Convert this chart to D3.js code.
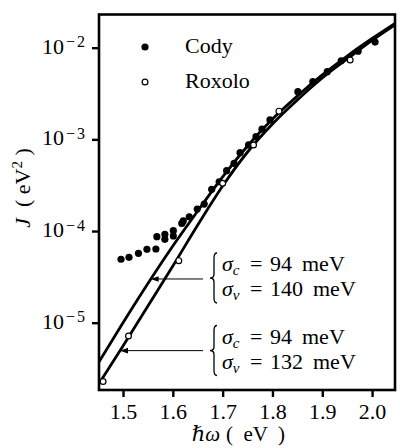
<!DOCTYPE html>
<html><head><meta charset="utf-8">
<script src="https://cdn.jsdelivr.net/npm/d3@7"></script>
<style>
html,body{margin:0;padding:0;background:#fff;}
svg{display:block;}
svg text{font-family:"Liberation Serif","DejaVu Serif",serif;fill:#000;}
.pre{white-space:pre;}
</style>
</head><body>
<svg id="chart" width="400" height="448"></svg>
<script>
// ---- data ----
const codyE = [1.496,1.512,1.531,1.548,1.566,1.568,1.584,1.584,1.601,1.601,1.618,1.621,1.633,1.649,1.663,
               1.678,1.693,1.708,1.723,1.735,1.752,1.767,1.779,1.795,1.851,1.881,1.910,1.938,1.972,2.006];
const codyJ = [4.92e-5,5.17e-5,5.71e-5,6.32e-5,6.37e-5,8.67e-5,9.2e-5,8.13e-5,1.01e-4,8.83e-5,1.21e-4,1.29e-4,1.43e-4,1.74e-4,1.97e-4,
               2.85e-4,3.45e-4,4.55e-4,5.48e-4,7.16e-4,8.69e-4,1.07e-3,1.29e-3,1.63e-3,3.31e-3,4.26e-3,5.47e-3,7.19e-3,9.16e-3,1.15e-2];
const roxoloE = [1.460,1.511,1.612,1.700,1.762,1.813,1.956];
const roxoloJ = [2.28e-6,7.16e-6,4.75e-5,3.32e-4,8.69e-4,2.03e-3,7.34e-3];
const fitE = [1.45,1.50,1.55,1.60,1.65,1.70,1.75,1.80,1.85,1.90,1.95,2.00,2.05];
const fit140J = [3.6e-6,1.0e-5,2.68e-5,6.87e-5,1.656e-4,3.89e-4,8.47e-4,1.667e-3,2.97e-3,5.04e-3,8.11e-3,1.259e-2,1.905e-2];
const fit132J = [2.09e-6,5.57e-6,1.52e-5,4.15e-5,1.164e-4,3.10e-4,7.28e-4,1.472e-3,2.69e-3,4.67e-3,7.53e-3,1.2e-2,1.837e-2];
const seriesNames = ["Cody","Roxolo"];
const xTicks = [1.5,1.6,1.7,1.8,1.9,2.0];
const xTickLabels = ["1.5","1.6","1.7","1.8","1.9","2.0"];
const yTicks = [1e-5,1e-4,1e-3,1e-2];
const yTickExp = ["−5","−4","−3","−2"];
const annSigmaC = ["94","94"];
const annSigmaV = ["140","132"];
const arrowE = [1.5554,1.494];
const arrowJ = [3.0e-5,4.96e-6];

// ---- layout ----
const L=99, R=395, T=14.5, B=390;
const svg = d3.select("#chart");
const x = d3.scaleLinear().domain([1.4518,2.046]).range([L,R]);
const y = d3.scaleLog().domain([Math.pow(10,-5.734),Math.pow(10,-1.638)]).range([B,T]);

svg.append("defs").append("clipPath").attr("id","clip")
  .append("rect").attr("x",L).attr("y",T).attr("width",R-L).attr("height",B-T);

// fitted curves
const line = d3.line().x(d=>x(d[0])).y(d=>y(d[1])).curve(d3.curveMonotoneX);
const g = svg.append("g").attr("clip-path","url(#clip)");
[fit140J, fit132J].forEach(arr=>{
  g.append("path").datum(fitE.map((e,i)=>[e,arr[i]]))
    .attr("d",line).attr("fill","none").attr("stroke","#000").attr("stroke-width",2.8);
});

// data points
g.selectAll("circle.cody").data(codyE.map((e,i)=>[e,codyJ[i]])).enter()
  .append("circle").attr("class","cody").attr("cx",d=>x(d[0])).attr("cy",d=>y(d[1])).attr("r",3.6).attr("fill","#000");
g.selectAll("circle.rox").data(roxoloE.map((e,i)=>[e,roxoloJ[i]])).enter()
  .append("circle").attr("class","rox").attr("cx",d=>x(d[0])).attr("cy",d=>y(d[1])).attr("r",2.9)
  .attr("fill","#fff").attr("stroke","#000").attr("stroke-width",1.2);

// frame
svg.append("rect").attr("x",L).attr("y",T).attr("width",R-L).attr("height",B-T)
  .attr("fill","none").attr("stroke","#000").attr("stroke-width",2.6);

// x axis ticks + labels
const xa = svg.append("g").attr("transform",`translate(0,${B})`)
  .call(d3.axisBottom(x).tickValues(xTicks).tickSize(7).tickFormat((d,i)=>xTickLabels[i]).tickPadding(7));
xa.select(".domain").remove();
xa.selectAll(".tick line").attr("stroke","#000").attr("stroke-width",2.4);
xa.selectAll(".tick text").attr("font-size",22).attr("fill","#000").attr("dy","0.68em");

// y axis ticks + labels
const ya = svg.append("g").attr("transform",`translate(${L},0)`)
  .call(d3.axisLeft(y).tickValues(yTicks).tickSize(7).tickFormat(""));
ya.select(".domain").remove();
ya.selectAll(".tick line").attr("stroke","#000").attr("stroke-width",2.4);
yTicks.forEach((v,i)=>{
  svg.append("text").attr("x",64).attr("y",y(v)+6).attr("text-anchor","end").attr("font-size",22).text("10");
  svg.append("text").attr("x",66).attr("y",y(v)-0.5).attr("font-size",16).attr("letter-spacing",2).text(yTickExp[i]);
});

// axis titles
svg.append("text").attr("x",220).attr("y",441).attr("text-anchor","end").attr("font-size",21)
  .attr("font-style","italic").text("ℏω");
svg.append("text").attr("class","pre").attr("x",226).attr("y",441).attr("font-size",21).text("(  eV  )");
const yt = svg.append("text").attr("class","pre").attr("transform","translate(30,188) rotate(-90)")
  .attr("text-anchor","middle").attr("font-size",22);
yt.append("tspan").attr("font-style","italic").text("J");
yt.append("tspan").text("  ( eV");
yt.append("tspan").attr("dy",-8).attr("font-size",15).text("2");
yt.append("tspan").attr("dy",8).text(" )");

// legend
svg.append("circle").attr("cx",145).attr("cy",47).attr("r",3.6).attr("fill","#000");
svg.append("circle").attr("cx",145).attr("cy",82).attr("r",2.9).attr("fill","#fff").attr("stroke","#000").attr("stroke-width",1.2);
svg.append("text").attr("x",185).attr("y",53).attr("font-size",22).text(seriesNames[0]);
svg.append("text").attr("x",185).attr("y",88).attr("font-size",22).text(seriesNames[1]);

// annotations
const braceMid = [278, 350.5];
function sigmaLine(yb, sub, val){
  const t = svg.append("text").attr("x",222).attr("y",yb).attr("font-size",22);
  t.append("tspan").attr("font-style","italic").text("σ");
  t.append("tspan").attr("font-style","italic").attr("font-size",15).attr("dy",4).text(sub);
  t.append("tspan").attr("x",250).attr("dy",-4).text("=");
  t.append("tspan").attr("x",270).text(val);
  t.append("tspan").attr("dx",10).text("meV");
}
braceMid.forEach((ym,i)=>{
  const x0=214, yt0=ym-25, yb=ym+25;
  svg.append("path").attr("d",
    `M${x0+3},${yt0} Q${x0},${yt0} ${x0},${yt0+5} L${x0},${ym-4} Q${x0},${ym} ${x0-4},${ym} Q${x0},${ym} ${x0},${ym+4} L${x0},${yb-5} Q${x0},${yb} ${x0+3},${yb}`)
    .attr("fill","none").attr("stroke","#000").attr("stroke-width",1.3);
  const tip = x(arrowE[i]), ay = y(arrowJ[i]);
  svg.append("line").attr("x1",203).attr("x2",tip+6).attr("y1",ay).attr("y2",ay).attr("stroke","#000").attr("stroke-width",1);
  svg.append("path").attr("d",`M${tip},${ay} L${tip+8},${ay-2.8} L${tip+8},${ay+2.8} Z`).attr("fill","#000");
  sigmaLine(ym-7, "c", annSigmaC[i]);
  sigmaLine(ym+18, "v", annSigmaV[i]);
});
</script>
</body></html>
